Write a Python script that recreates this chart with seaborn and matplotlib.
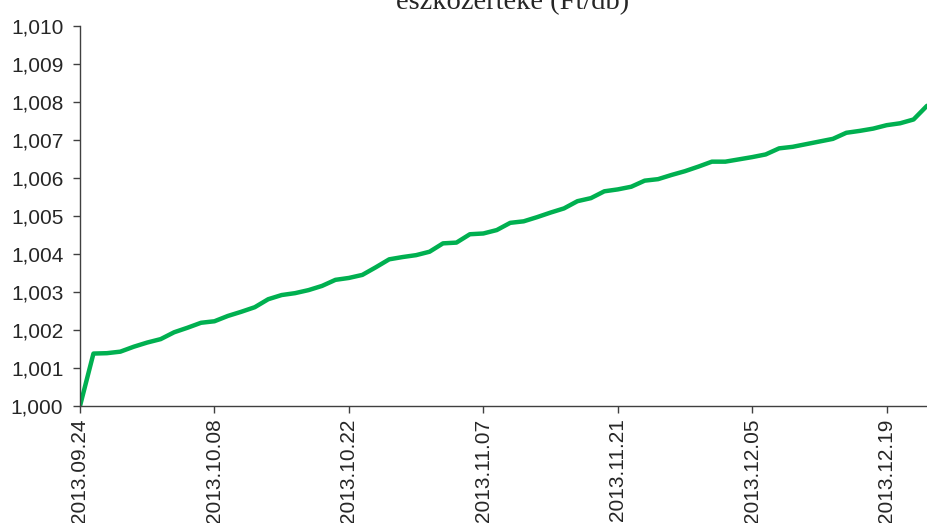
import numpy as np
import pandas as pd
import matplotlib
matplotlib.use('Agg')
import matplotlib.pyplot as plt
import matplotlib.ticker as mticker
import seaborn as sns

# business days (Hungarian calendar), daily net asset value per unit
dates = ['2013.09.24', '2013.09.25', '2013.09.26', '2013.09.27', '2013.09.30',
         '2013.10.01', '2013.10.02', '2013.10.03', '2013.10.04', '2013.10.07', '2013.10.08',
         '2013.10.09', '2013.10.10', '2013.10.11', '2013.10.14', '2013.10.15', '2013.10.16',
         '2013.10.17', '2013.10.18', '2013.10.21', '2013.10.22',
         '2013.10.24', '2013.10.25', '2013.10.28', '2013.10.29', '2013.10.30', '2013.10.31',
         '2013.11.04', '2013.11.05', '2013.11.06', '2013.11.07',
         '2013.11.08', '2013.11.11', '2013.11.12', '2013.11.13', '2013.11.14', '2013.11.15',
         '2013.11.18', '2013.11.19', '2013.11.20', '2013.11.21',
         '2013.11.22', '2013.11.25', '2013.11.26', '2013.11.27', '2013.11.28', '2013.11.29',
         '2013.12.02', '2013.12.03', '2013.12.04', '2013.12.05',
         '2013.12.06', '2013.12.09', '2013.12.10', '2013.12.11', '2013.12.12', '2013.12.13',
         '2013.12.16', '2013.12.17', '2013.12.18', '2013.12.19',
         '2013.12.20', '2013.12.23', '2013.12.27']

nav = [1.00000, 1.00138, 1.00139, 1.00143, 1.00156, 1.00167, 1.00176, 1.00194, 1.00206, 1.00219,
       1.00223, 1.00237, 1.00248, 1.00260, 1.00281, 1.00292, 1.00297, 1.00305, 1.00316, 1.00332,
       1.00337, 1.00345, 1.00365, 1.00386, 1.00392, 1.00397, 1.00406, 1.00428, 1.00430, 1.00452,
       1.00454, 1.00463, 1.00482, 1.00486, 1.00497, 1.00509, 1.00520, 1.00539, 1.00547, 1.00565,
       1.00570, 1.00577, 1.00593, 1.00597, 1.00608, 1.00618, 1.00630, 1.00643, 1.00643, 1.00649,
       1.00655, 1.00662, 1.00678, 1.00682, 1.00689, 1.00696, 1.00703, 1.00719, 1.00724, 1.00730,
       1.00739, 1.00744, 1.00754, 1.00790]

title = 'eszközértéke (Ft/db)'

df = pd.DataFrame({'nap': np.arange(len(nav)), 'ertek': nav})

sns.set_style('ticks')
plt.rcParams['font.family'] = ['Liberation Sans', 'DejaVu Sans']

fig = plt.figure(figsize=(9.27, 5.23), dpi=100)
ax = fig.add_axes([80 / 927, 1 - 406 / 523, 1 - 80 / 927, (406 - 26) / 523])

sns.lineplot(data=df, x='nap', y='ertek', color='#00B050', linewidth=3.2, ax=ax)

ax.set_xlim(0, len(nav) - 1)
ax.set_ylim(1.000, 1.010)
ax.set_yticks(np.linspace(1.000, 1.010, 11))
ax.yaxis.set_major_formatter(mticker.FuncFormatter(lambda v, p: f'{v:.3f}'.replace('.', ',')))
ticks = list(range(0, len(nav), 10))
ax.set_xticks(ticks)
ax.set_xticklabels([dates[i] for i in ticks], rotation=90)
ax.set_xlabel('')
ax.set_ylabel('')
ax.tick_params(axis='both', labelsize=15, length=5, width=1, color='#404040')
ax.tick_params(axis='y', pad=7)
ax.tick_params(axis='x', pad=4)
for s in ['top', 'right']:
    ax.spines[s].set_visible(False)
for s in ['left', 'bottom']:
    ax.spines[s].set_color('#404040')
    ax.spines[s].set_linewidth(1)

# first line of the title is above the visible area in the reference
fig.text(513 / 927, 1 - 9 / 523, title, ha='center', va='baseline',
         fontsize=20.5, family=['Liberation Serif', 'DejaVu Serif'])

fig.savefig('out.png', dpi=100)
plt.close()
